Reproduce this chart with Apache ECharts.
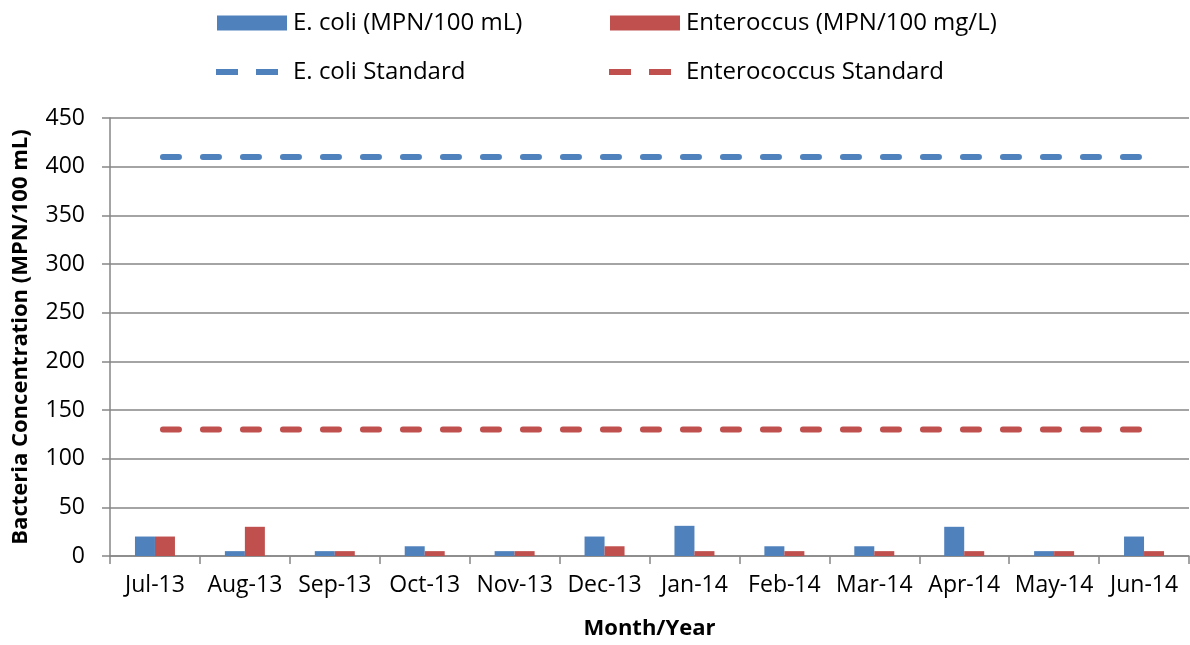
<!DOCTYPE html>
<html>
<head>
<meta charset="utf-8">
<script src="https://cdn.jsdelivr.net/npm/echarts@6/dist/echarts.min.js"></script>
<style>
  html, body { margin: 0; padding: 0; background: #fff; }
  #chart { width: 1190px; height: 645px; }
</style>
</head>
<body>
<div id="chart"></div>
<script>
// values
var months = ['Jul-13', 'Aug-13', 'Sep-13', 'Oct-13', 'Nov-13', 'Dec-13', 'Jan-14', 'Feb-14', 'Mar-14', 'Apr-14', 'May-14', 'Jun-14']
var ecoli = [20, 5, 5, 10, 5, 20, 31, 10, 10, 30, 5, 20]
var enterococcus = [20, 30, 5, 5, 5, 10, 5, 5, 5, 5, 5, 5]
var ecoliStandard = [410, 410, 410, 410, 410, 410, 410, 410, 410, 410, 410, 410]
var enteroStandard = [130, 130, 130, 130, 130, 130, 130, 130, 130, 130, 130, 130]

var BLUE = '#4f81bd'
var RED = '#c0504d'
var FONT = 'Open Sans'
var AXIS_GRAY = '#868686'
// two short dashes, used as legend icon for the standard lines
var DASH_ICON = 'path://M0,0h22v6h-22z M40,0h22v6h-22z'

var chart = echarts.init(document.getElementById('chart'))

function barLegend (name, left, top) {
  return {
    data: [{ name: name, icon: 'rect' }],
    left: left,
    top: top,
    itemWidth: 70,
    itemHeight: 15,
    textStyle: { fontFamily: FONT, fontSize: 24, color: '#000', padding: [0, 0, 0, 1] }
  }
}

function lineLegend (name, left, top) {
  return {
    data: [{ name: name, icon: DASH_ICON }],
    left: left,
    top: top,
    itemWidth: 62,
    itemHeight: 6,
    textStyle: { fontFamily: FONT, fontSize: 24, color: '#000', padding: [0, 0, 0, 10] }
  }
}

chart.setOption({
  animation: false,
  textStyle: { fontFamily: FONT },
  legend: [
    barLegend('E. coli (MPN/100 mL)', 212, 6),
    barLegend('Enteroccus (MPN/100 mg/L)', 605, 6),
    lineLegend('E. coli Standard', 211, 55),
    lineLegend('Enterococcus Standard', 604, 55)
  ],
  grid: {
    left: 110,
    right: 1,
    top: 118,
    bottom: 89
  },
  xAxis: {
    type: 'category',
    data: months,
    name: 'Month/Year',
    nameLocation: 'middle',
    nameGap: 62,
    nameTextStyle: { fontFamily: FONT, fontSize: 22, fontWeight: 'bold', color: '#000' },
    axisLine: { lineStyle: { color: AXIS_GRAY, width: 1.5 } },
    axisTick: { show: true, length: 8, lineStyle: { color: AXIS_GRAY, width: 1.5 } },
    axisLabel: { interval: 0, margin: 18, fontFamily: FONT, fontSize: 23, color: '#000' }
  },
  yAxis: {
    type: 'value',
    min: 0,
    max: 450,
    interval: 50,
    name: 'Bacteria Concentration (MPN/100 mL)',
    nameLocation: 'middle',
    nameGap: 78,
    nameTextStyle: { fontFamily: FONT, fontSize: 22, fontWeight: 'bold', color: '#000' },
    axisLine: { show: true, lineStyle: { color: AXIS_GRAY, width: 1.5 } },
    axisTick: { show: true, length: 8, lineStyle: { color: AXIS_GRAY, width: 1.5 } },
    axisLabel: { margin: 25, fontFamily: FONT, fontSize: 23, color: '#000' },
    splitLine: { lineStyle: { color: AXIS_GRAY, width: 1.5 } }
  },
  series: [
    {
      name: 'E. coli (MPN/100 mL)',
      type: 'bar',
      data: ecoli,
      barWidth: 20,
      barGap: '0%',
      itemStyle: { color: BLUE }
    },
    {
      name: 'Enteroccus (MPN/100 mg/L)',
      type: 'bar',
      data: enterococcus,
      barWidth: 20,
      itemStyle: { color: RED }
    },
    {
      name: 'E. coli Standard',
      type: 'line',
      data: ecoliStandard,
      symbol: 'none',
      itemStyle: { color: BLUE },
      lineStyle: { color: BLUE, width: 6, type: [16, 24], dashOffset: 32, cap: 'round' }
    },
    {
      name: 'Enterococcus Standard',
      type: 'line',
      data: enteroStandard,
      symbol: 'none',
      itemStyle: { color: RED },
      lineStyle: { color: RED, width: 6, type: [16, 24], dashOffset: 32, cap: 'round' }
    }
  ]
})
</script>
</body>
</html>
